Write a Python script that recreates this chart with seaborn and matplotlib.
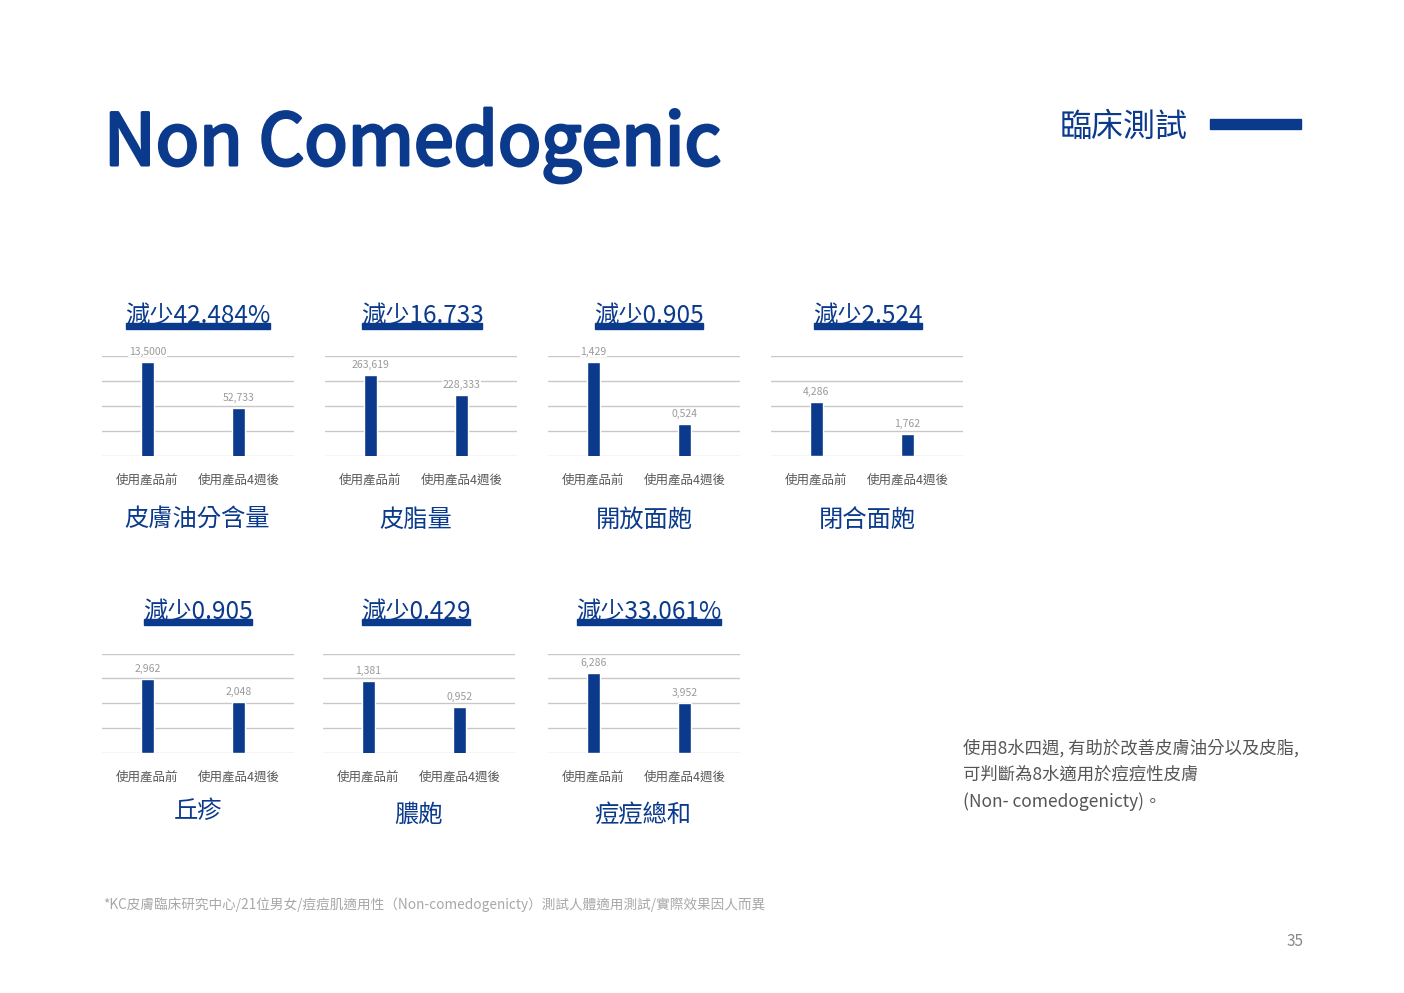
import numpy as np
import pandas as pd
import matplotlib
matplotlib.use('Agg')
import matplotlib.pyplot as plt
from matplotlib.patches import Rectangle
import matplotlib.patheffects as pe
import seaborn as sns

# ---- data ----
categories = ['使用產品前', '使用產品4週後']
panel_names = ['皮膚油分含量', '皮脂量', '開放面皰', '閉合面皰', '丘疹', '膿皰', '痘痘總和']
reduction_labels = ['減少42.484%', '減少16.733', '減少0.905', '減少2.524',
                    '減少0.905', '減少0.429', '減少33.061%']
before_values = [91.68, 263.619, 1.429, 4.286, 2.962, 1.381, 6.286]
after_values = [52.733, 228.333, 0.524, 1.762, 2.048, 0.952, 3.952]
# data labels exactly as printed on the slide
before_labels = ['13,5000', '263,619', '1,429', '4,286', '2,962', '1,381', '6,286']
after_labels = ['52,733', '228,333', '0,524', '1,762', '2,048', '0,952', '3,952']
# value axis range for each small chart
y_ranges = [(12, 96.5), (120, 297), (0.06, 1.51), (0, 8), (0, 4), (0.17, 1.845), (0, 7.8)]

note_lines = ['使用8水四週, 有助於改善皮膚油分以及皮脂,',
              '可判斷為8水適用於痘痘性皮膚',
              '(Non- comedogenicty)。']
footnote = '*KC皮膚臨床研究中心/21位男女/痘痘肌適用性（Non-comedogenicty）測試人體適用測試/實際效果因人而異'

# ---- layout (pixels on a 1404x993 page) ----
W, H = 1404, 993
panel_x = [(102, 294), (325, 517), (548, 740), (771, 963),
           (102, 294), (323, 515), (548, 740)]
panel_y = [(356, 456)] * 4 + [(653.5, 753.3)] * 3
title_x = [198, 422, 649, 868, 198, 416, 649]
title_base = [323] * 4 + [619] * 3
name_x = [197, 416, 644, 867, 198, 418, 643]
name_y = [520] * 4 + [811, 815, 815]

NAVY = '#0b3a8c'
GRID = '#c8c8c8'

sns.set_theme(style='white')
plt.rcParams['font.family'] = ['Noto Sans CJK TC', 'DejaVu Sans']

fig = plt.figure(figsize=(W / 100, H / 100), dpi=100)
fig.patch.set_facecolor('white')


def fx(x):
    return x / W


def fy(y):
    return 1 - y / H


titles = []
for i in range(len(panel_names)):
    x0, x1 = panel_x[i]
    yt, yb = panel_y[i]
    ax = fig.add_axes([fx(x0), fy(yb), (x1 - x0) / W, (yb - yt) / H])
    df = pd.DataFrame({'cat': categories, 'val': [before_values[i], after_values[i]]})
    sns.barplot(data=df, x='cat', y='val', ax=ax, color=NAVY, saturation=1,
                width=0.143, zorder=2)
    lo, hi = y_ranges[i]
    ax.set_ylim(lo, hi)
    ax.set_xlim(-0.5, 1.61)
    ax.set_yticks(np.linspace(lo, hi, 5))
    ax.yaxis.grid(True, color=GRID, linewidth=1)
    ax.set_axisbelow(True)
    ax.set_yticklabels([])
    ax.set_xlabel('')
    ax.set_ylabel('')
    for s in ax.spines.values():
        s.set_visible(False)
    ax.tick_params(axis='x', length=0, pad=12.5, labelsize=9, labelcolor='#595959')
    ax.tick_params(axis='y', length=0)
    for j, (v, lab) in enumerate(zip([before_values[i], after_values[i]],
                                     [before_labels[i], after_labels[i]])):
        ax.annotate(lab, (j, v), xytext=(0, 7.2), textcoords='offset points',
                    ha='center', va='center', fontsize=7.5, color='#9a9a9a',
                    fontweight='light', zorder=4,
                    bbox=dict(fc='white', ec='none', pad=0.5))

    t = fig.text(fx(title_x[i]), fy(title_base[i]), reduction_labels[i],
                 ha='center', va='baseline', fontsize=17.5, color=NAVY,
                 fontweight='light', zorder=3)
    titles.append((t, title_base[i]))
    fig.text(fx(name_x[i]), fy(name_y[i]), panel_names[i], ha='center', va='center',
             fontsize=17.5, color=NAVY)

# thick underline under each reduction headline
fig.canvas.draw()
renderer = fig.canvas.get_renderer()
for t, base in titles:
    bb = t.get_window_extent(renderer)
    fig.add_artist(Rectangle((bb.x0 / W + 1 / W, fy(base + 5.5)), (bb.width - 2) / W, 5.5 / H,
                             transform=fig.transFigure, color=NAVY, zorder=1))

# page header (regular weight thickened a little to get a semibold look)
fig.text(fx(104), fy(165), 'Non Comedogenic', ha='left', va='baseline',
         fontsize=51.5, color=NAVY,
         path_effects=[pe.withStroke(linewidth=2.2, foreground=NAVY)])
fig.text(fx(1060), fy(127), '臨床測試', ha='left', va='center',
         fontsize=23, color=NAVY, fontweight='light')
fig.add_artist(Rectangle((fx(1210), fy(129.5)), 91 / W, 10.5 / H,
                         transform=fig.transFigure, color=NAVY))

# side note
for k, line in enumerate(note_lines):
    fig.text(fx(963), fy(748 + 27 * k), line, ha='left', va='center',
             fontsize=12.5, color='#555555', fontweight='light')

fig.text(fx(103), fy(905), footnote, ha='left', va='center',
         fontsize=9.8, color='#a8a8a8', fontweight='light')
fig.text(fx(1304), fy(941), '35', ha='right', va='center',
         fontsize=11, color='#888888', fontweight='light')

fig.savefig('out.png', dpi=100, facecolor='white')
plt.close(fig)
